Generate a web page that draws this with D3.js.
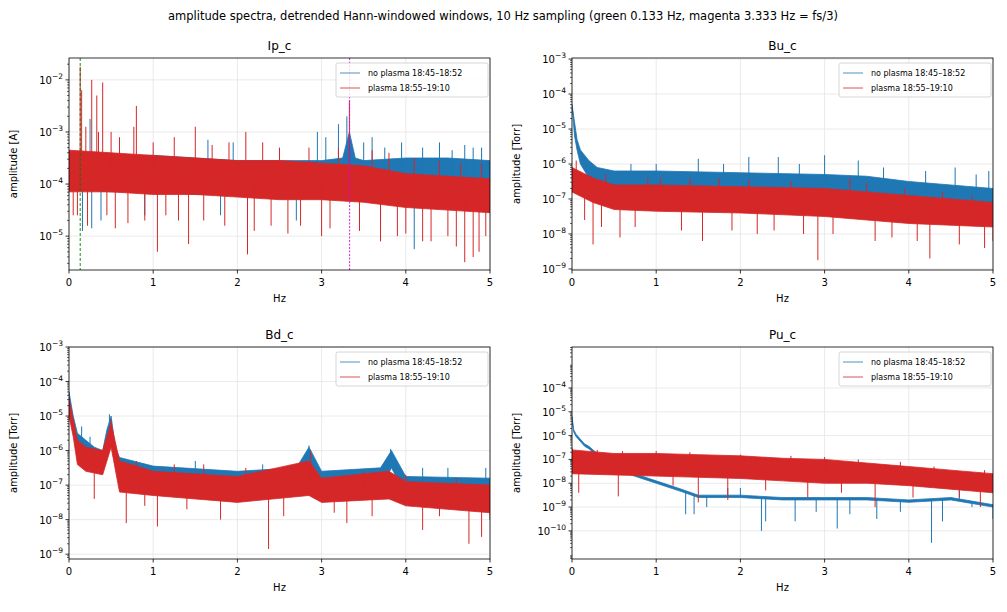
<!DOCTYPE html>
<html><head><meta charset="utf-8">
<script src="https://cdn.jsdelivr.net/npm/d3@7"></script>
<style>body{margin:0;background:#fff}text{font-family:"DejaVu Sans",sans-serif}</style>
</head><body><svg id="c" width="1007" height="612"></svg>
<script>
// Envelope data: [Hz, log10 low, log10 high]
const ipBlue=[[0,-4.1,-3.4],[0.5,-4.15,-3.45],[1,-4.15,-3.45],[1.5,-4.2,-3.5],[2,-4.2,-3.55],[2.5,-4.2,-3.55],[3,-4.2,-3.55],[3.25,-4.2,-3.5],[3.33,-3.9,-3.0],[3.4,-4.2,-3.5],[3.5,-4.2,-3.55],[4,-4.2,-3.5],[4.5,-4.2,-3.5],[5,-4.25,-3.55]];
const ipRed=[[0,-4.15,-3.35],[0.5,-4.15,-3.4],[1,-4.2,-3.45],[1.5,-4.2,-3.5],[2,-4.25,-3.55],[2.5,-4.3,-3.55],[3,-4.3,-3.6],[3.5,-4.35,-3.65],[4,-4.45,-3.8],[4.5,-4.5,-3.85],[5,-4.55,-3.9]];
const ipBlueSpk=[[0.16,-4.9],[0.27,-4.85],[0.25,-2.75],[0.38,-4.7],[1.65,-3.15],[3.2,-2.85],[3.3,-2.7],[4.1,-5.25],[4.4,-3.2],[4.9,-3.3],[3.6,-3.1],[4.7,-3.25],[3.5,-3.2],[3.75,-3.3],[3.95,-3.2],[4.2,-3.3],[4.55,-3.35],[4.8,-3.3],[0.9,-4.6],[1.8,-4.6],[2.7,-4.7],[3.7,-4.75],[2.95,-3.0],[3.05,-3.1],[1.95,-3.2]];
const ipRedSpk=[[0.133,-1.75],[0.15,-2.2],[0.2,-2.9],[0.27,-2.0],[0.33,-2.3],[0.4,-2.05],[0.5,-3.0],[0.77,-2.9],[0.8,-2.5],[1.05,-5.3],[1.25,-3.1],[1.42,-5.15],[1.5,-2.9],[2.1,-3.0],[2.12,-5.35],[3.33,-2.4],[4.5,-5.0],[4.7,-5.5],[4.8,-5.4],[4.87,-5.3],[0.55,-4.85],[2.6,-4.95],[3.9,-5.0],[4.3,-5.1],[0.05,-4.6],[0.1,-4.6],[0.22,-4.8],[0.35,-3.0],[0.45,-4.6],[0.6,-3.1],[0.7,-4.75],[0.9,-4.7],[1.0,-3.2],[1.15,-4.6],[1.3,-4.7],[1.6,-4.7],[1.7,-3.25],[1.85,-4.8],[2.3,-3.2],[2.4,-4.8],[2.5,-3.3],[2.75,-4.8],[2.85,-3.3],[3.1,-4.85],[3.2,-3.3],[3.45,-4.9],[3.6,-3.35],[3.7,-5.1],[3.8,-3.4],[4.0,-4.95],[4.1,-3.5],[4.2,-5.1],[4.4,-3.55],[4.6,-5.2],[4.65,-3.6],[4.95,-5.0],[4.9,-3.6],[1.9,-3.2],[2.2,-4.9],[3.0,-5.0]];
const buBlue=[[0,-4.3,-4.3],[0.03,-5.2,-4.8],[0.06,-5.6,-5.3],[0.1,-6.0,-5.6],[0.2,-6.4,-5.9],[0.3,-6.6,-6.1],[0.5,-6.7,-6.2],[1,-6.7,-6.2],[2,-6.7,-6.25],[3,-6.75,-6.3],[3.5,-6.85,-6.35],[4,-7.0,-6.5],[4.5,-7.1,-6.6],[5,-7.3,-6.7]];
const buRed=[[0,-6.8,-6.1],[0.25,-7.1,-6.4],[0.5,-7.3,-6.6],[1,-7.35,-6.6],[2,-7.4,-6.65],[3,-7.5,-6.7],[4,-7.7,-6.9],[4.5,-7.75,-7.0],[5,-7.8,-7.1]];
const buBlueSpk=[[1.5,-5.85],[2.1,-5.8],[2.45,-5.8],[3.0,-5.75],[3.4,-5.9],[4.55,-6.1],[0.4,-7.2],[1.2,-7.1],[0.7,-6.0],[1.0,-6.0],[1.8,-6.0],[2.7,-6.0],[3.7,-6.1],[4.2,-6.2],[4.8,-6.3],[4.95,-6.2]];
const buRedSpk=[[0.05,-5.9],[0.25,-8.3],[0.4,-6.3],[0.57,-8.1],[1.05,-6.4],[1.55,-8.2],[2.92,-8.75],[3.3,-6.4],[4.25,-8.7],[4.9,-8.4],[3.6,-8.2],[2.2,-8.0],[0.15,-7.6],[0.35,-7.8],[0.75,-7.8],[0.9,-6.4],[1.3,-7.9],[1.4,-6.4],[1.75,-6.4],[1.9,-7.9],[2.1,-6.45],[2.4,-7.9],[2.6,-6.5],[2.75,-8.0],[3.1,-8.0],[3.5,-6.55],[3.8,-8.1],[3.95,-6.7],[4.1,-8.2],[4.4,-6.8],[4.6,-8.3],[4.75,-6.9],[5.0,-8.2]];
const bdBlue=[[0,-4.5,-4.3],[0.05,-5.3,-5.0],[0.1,-5.9,-5.5],[0.2,-6.2,-5.7],[0.3,-6.4,-5.9],[0.4,-6.5,-6.0],[0.45,-6.0,-5.4],[0.5,-5.6,-5.0],[0.55,-6.4,-5.9],[0.6,-6.9,-6.2],[1,-7.0,-6.45],[2,-7.2,-6.6],[2.7,-7.1,-6.5],[2.85,-6.5,-5.9],[3,-7.1,-6.6],[3.7,-7.1,-6.5],[3.83,-6.5,-6.0],[4,-7.3,-6.75],[5,-7.4,-6.8]];
const bdRed=[[0,-5.0,-4.5],[0.05,-5.6,-5.1],[0.1,-6.4,-5.7],[0.2,-6.6,-5.9],[0.4,-6.7,-6.0],[0.5,-5.9,-5.2],[0.6,-7.2,-6.3],[1,-7.3,-6.6],[2,-7.5,-6.75],[2.85,-7.3,-6.3],[3,-7.5,-6.8],[3.8,-7.4,-6.6],[4,-7.6,-6.9],[5,-7.8,-7.0]];
const bdBlueSpk=[[0.48,-4.95],[2.85,-5.85],[3.82,-5.95],[4.95,-6.5],[0.15,-5.3],[0.25,-5.6],[1.5,-6.3],[2.3,-6.4],[4.5,-6.5],[4.2,-6.5]];
const bdRedSpk=[[0.68,-8.1],[1.05,-8.2],[2.37,-8.85],[3.3,-8.1],[4.75,-8.7],[4.2,-8.3],[1.8,-8.0],[0.5,-5.1],[2.87,-6.0],[4.9,-8.5],[0.3,-7.4],[0.8,-6.3],[0.9,-7.6],[1.25,-6.4],[1.4,-7.7],[1.6,-6.4],[2.1,-6.5],[2.55,-7.9],[2.6,-6.5],[3.15,-7.8],[3.5,-6.6],[3.6,-7.9],[4.0,-6.7],[4.4,-7.9],[4.6,-6.8],[5.0,-8.0]];
const puBlue=[[0,-5.3,-5.2],[0.02,-5.85,-5.75],[0.05,-6.05,-5.95],[0.1,-6.25,-6.15],[0.15,-6.45,-6.35],[0.2,-6.55,-6.45],[0.3,-6.85,-6.75],[0.5,-7.35,-7.25],[0.7,-7.65,-7.55],[1,-8.0,-7.9],[1.3,-8.35,-8.25],[1.5,-8.6,-8.5],[2,-8.6,-8.5],[2.5,-8.7,-8.6],[3,-8.7,-8.6],[3.5,-8.7,-8.6],[4,-8.8,-8.7],[4.5,-8.7,-8.6],[5,-9.0,-8.9]];
const puRed=[[0,-7.6,-6.6],[0.5,-7.65,-6.75],[1,-7.7,-6.75],[1.5,-7.75,-6.8],[2,-7.8,-6.85],[2.5,-7.9,-6.95],[3,-8.0,-7.0],[3.5,-8.0,-7.15],[4,-8.1,-7.3],[4.5,-8.25,-7.45],[5,-8.4,-7.6]];
const puBlueSpk=[[1.35,-9.3],[1.45,-9.3],[2.25,-10.0],[2.3,-9.6],[2.65,-9.6],[3.15,-9.9],[3.62,-9.5],[4.27,-10.5],[4.4,-9.6],[5.0,-9.5],[1.6,-9.0],[1.85,-8.2],[2.0,-8.2],[2.9,-9.2],[3.3,-9.3],[3.9,-9.2],[4.6,-8.3],[4.75,-9.0]];
const puRedSpk=[[0,-6.5],[0.08,-8.4],[0.55,-8.55],[1.5,-8.8],[1.85,-8.7],[3.6,-9.0],[4.05,-8.6],[4.85,-9.0],[2.8,-8.6],[0.3,-6.6],[0.6,-6.65],[1.0,-6.65],[1.4,-6.7],[1.2,-8.1],[2.0,-6.8],[2.3,-8.3],[2.6,-6.85],[3.0,-6.9],[3.2,-8.4],[3.4,-7.0],[3.9,-7.1],[4.3,-7.3],[4.6,-8.6],[4.9,-7.45]];
const yDomains={Ip:[-5.65,-1.58],Bu:[-9.03,-2.97],Bd:[-9.14,-3.0],Pu:[-11.18,-2.28]};
const yMajors={Ip:[-5,-4,-3,-2],Bu:[-9,-8,-7,-6,-5,-4,-3],Bd:[-9,-8,-7,-6,-5,-4,-3],Pu:[-10,-9,-8,-7,-6,-5,-4]};
const yUnits={Ip:"amplitude [A]",Bu:"amplitude [Torr]",Bd:"amplitude [Torr]",Pu:"amplitude [Torr]"};
const xTicks=[0,1,2,3,4,5];
const legendLabels=["no plasma 18:45–18:52","plasma 18:55–19:10"];
const markers=[0.133,3.333];

const BLUE="#1f77b4",RED="#d62728";
const svg=d3.select("#c");
svg.append("text").attr("x",503).attr("y",20).attr("text-anchor","middle").attr("font-size",11.5)
 .text("amplitude spectra, detrended Hann-windowed windows, 10 Hz sampling (green 0.133 Hz, magenta 3.333 Hz = fs/3)");
const panels=[
 {n:"Ip",x:69,y:58,b:ipBlue,r:ipRed,bs:ipBlueSpk,rs:ipRedSpk,mk:true},
 {n:"Bu",x:572,y:58,b:buBlue,r:buRed,bs:buBlueSpk,rs:buRedSpk},
 {n:"Bd",x:69,y:347,b:bdBlue,r:bdRed,bs:bdBlueSpk,rs:bdRedSpk},
 {n:"Pu",x:572,y:347,b:puBlue,r:puRed,bs:puBlueSpk,rs:puRedSpk}];
const W=421,H=212;
panels.forEach(p=>{
 const g=svg.append("g").attr("transform",`translate(${p.x},${p.y})`);
 const x=d3.scaleLinear().domain([0,5]).range([0,W]);
 const y=d3.scaleLinear().domain(yDomains[p.n]).range([H,0]);
 const cid="clip"+p.n;
 g.append("clipPath").attr("id",cid).append("rect").attr("width",W).attr("height",H);
 xTicks.forEach(t=>g.append("line").attr("x1",x(t)).attr("x2",x(t)).attr("y1",0).attr("y2",H).attr("stroke","#e5e5e5").attr("stroke-width",0.8));
 yMajors[p.n].forEach(t=>g.append("line").attr("y1",y(t)).attr("y2",y(t)).attr("x1",0).attr("x2",W).attr("stroke","#e5e5e5").attr("stroke-width",0.8));
 const pg=g.append("g").attr("clip-path",`url(#${cid})`);
 const drawSeries=(env,spk,col)=>{
  const area=d3.area().x(d=>x(d[0])).y0(d=>y(d[1])).y1(d=>y(d[2]));
  pg.append("path").datum(env).attr("d",area).attr("fill",col).attr("stroke",col).attr("stroke-width",0.8);
  const mid=d3.scaleLinear().domain(env.map(d=>d[0])).range(env.map(d=>(d[1]+d[2])/2));
  spk.forEach(s=>pg.append("line").attr("x1",x(s[0])).attr("x2",x(s[0])).attr("y1",y(mid(s[0]))).attr("y2",y(s[1])).attr("stroke",col).attr("stroke-width",1));
 };
 drawSeries(p.b,p.bs,BLUE);
 drawSeries(p.r,p.rs,RED);
 if(p.mk){
  pg.append("line").attr("x1",x(markers[0])).attr("x2",x(markers[0])).attr("y1",0).attr("y2",H).attr("stroke","green").attr("stroke-width",0.9).attr("stroke-dasharray","3,2");
  pg.append("line").attr("x1",x(markers[1])).attr("x2",x(markers[1])).attr("y1",0).attr("y2",H).attr("stroke","#d0d").attr("stroke-width",0.9).attr("stroke-dasharray","2,1.5");
 }
 g.append("rect").attr("width",W).attr("height",H).attr("fill","none").attr("stroke","#000").attr("stroke-width",0.8);
 xTicks.forEach(t=>{
  g.append("line").attr("x1",x(t)).attr("x2",x(t)).attr("y1",H).attr("y2",H+3.5).attr("stroke","#000").attr("stroke-width",0.8);
  g.append("text").attr("x",x(t)).attr("y",H+16).attr("text-anchor","middle").attr("font-size",10).text(t);
 });
 g.append("text").attr("x",W/2).attr("y",H+32).attr("text-anchor","middle").attr("font-size",10).text("Hz");
 const [lo,hi]=yDomains[p.n];
 for(let d=Math.floor(lo);d<=Math.ceil(hi);d++){
  for(let m=2;m<=9;m++){const v=d+Math.log10(m); if(v>lo&&v<hi) g.append("line").attr("x1",-2).attr("x2",0).attr("y1",y(v)).attr("y2",y(v)).attr("stroke","#000").attr("stroke-width",0.6);}
 }
 yMajors[p.n].forEach(t=>{
  g.append("line").attr("x1",-3.5).attr("x2",0).attr("y1",y(t)).attr("y2",y(t)).attr("stroke","#000").attr("stroke-width",0.8);
  const tx=g.append("text").attr("x",-6).attr("y",y(t)+4).attr("text-anchor","end").attr("font-size",10);
  tx.append("tspan").text("10");
  tx.append("tspan").attr("font-size",7.5).attr("dy",-5).text(String(t).replace("-","−"));
 });
 g.append("text").attr("transform",`translate(-52,${H/2}) rotate(-90)`).attr("text-anchor","middle").attr("font-size",10).text(yUnits[p.n]);
 g.append("text").attr("x",W/2).attr("y",-8).attr("text-anchor","middle").attr("font-size",12).text(p.n+"_c");
 const lg=g.append("g").attr("transform",`translate(${W-154},5)`);
 lg.append("rect").attr("width",152).attr("height",34).attr("rx",2).attr("fill","#fff").attr("fill-opacity",0.8).attr("stroke","#ccc").attr("stroke-width",0.8);
 [BLUE,RED].forEach((c,i)=>{
  lg.append("line").attr("x1",4).attr("x2",24).attr("y1",10+i*15).attr("y2",10+i*15).attr("stroke",c).attr("stroke-width",0.8);
  lg.append("text").attr("x",32).attr("y",13+i*15).attr("font-size",8).text(legendLabels[i]);
 });
});
</script></body></html>
